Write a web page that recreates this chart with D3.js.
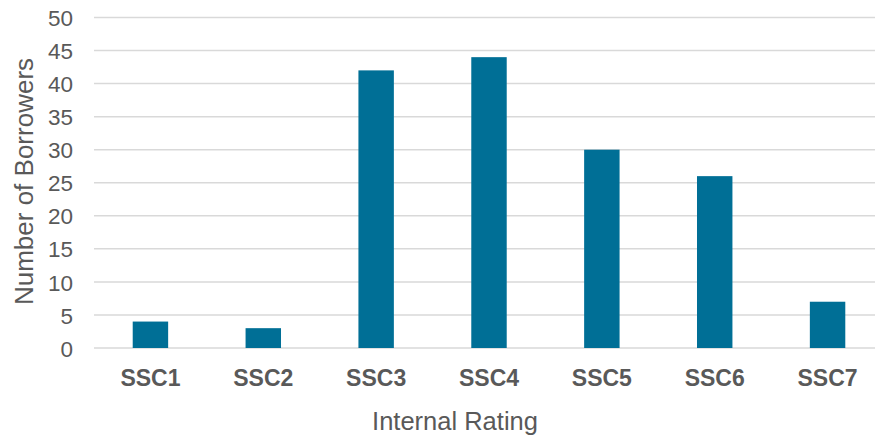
<!DOCTYPE html>
<html>
<head>
<meta charset="utf-8">
<script src="https://cdn.jsdelivr.net/npm/d3@7"></script>
<style>
  html, body { margin: 0; padding: 0; background: #fff; }
  svg { display: block; font-family: "Liberation Sans", Arial, sans-serif; }
</style>
</head>
<body>
<svg id="chart" width="875" height="436"></svg>
<script>
// Borrower counts per internal rating grade
const categories = ["SSC1", "SSC2", "SSC3", "SSC4", "SSC5", "SSC6", "SSC7"];
const borrowers = [4, 3, 42, 44, 30, 26, 7];
const yTicks = [0, 5, 10, 15, 20, 25, 30, 35, 40, 45, 50];

const svg = d3.select("#chart");
const plotLeft = 94, plotRight = 884, plotTop = 17.5, plotBottom = 348;

const x = d3.scaleBand()
  .domain(categories)
  .range([plotLeft, plotRight])
  .paddingInner(0.686)
  .paddingOuter(0.343);

const y = d3.scaleLinear().domain([0, 50]).range([plotBottom, plotTop]);

// Horizontal gridlines
svg.append("g")
  .selectAll("line")
  .data(yTicks)
  .join("line")
  .attr("x1", plotLeft)
  .attr("x2", plotRight)
  .attr("y1", d => y(d))
  .attr("y2", d => y(d))
  .attr("stroke", "#d9d9d9")
  .attr("stroke-width", 1.5);

// Bars
svg.append("g")
  .selectAll("rect")
  .data(categories)
  .join("rect")
  .attr("x", d => x(d))
  .attr("width", x.bandwidth())
  .attr("y", (d, i) => y(borrowers[i]))
  .attr("height", (d, i) => y(0) - y(borrowers[i]))
  .attr("fill", "#006f96");

// Y axis tick labels
const yAxis = d3.axisLeft(y).tickValues(yTicks).tickSize(0).tickPadding(0);
const gy = svg.append("g").attr("transform", `translate(73,0)`).call(yAxis);
gy.select(".domain").remove();
gy.selectAll("text")
  .attr("fill", "#595959")
  .style("font-size", "22.5px")
  .attr("dy", "0.36em");

// X axis category labels
const xAxis = d3.axisBottom(x).tickSize(0).tickPadding(0);
const gx = svg.append("g").attr("transform", `translate(0,369.2)`).call(xAxis);
gx.select(".domain").remove();
gx.selectAll("text")
  .attr("fill", "#595959")
  .style("font-size", "23px")
  .style("font-weight", "bold");

// Axis titles
svg.append("text")
  .attr("transform", `translate(33,181.5) rotate(-90)`)
  .attr("text-anchor", "middle")
  .attr("fill", "#595959")
  .style("font-size", "26px")
  .text("Number of Borrowers");

svg.append("text")
  .attr("x", 455)
  .attr("y", 430)
  .attr("text-anchor", "middle")
  .attr("fill", "#595959")
  .style("font-size", "25.5px")
  .text("Internal Rating");
</script>
</body>
</html>
